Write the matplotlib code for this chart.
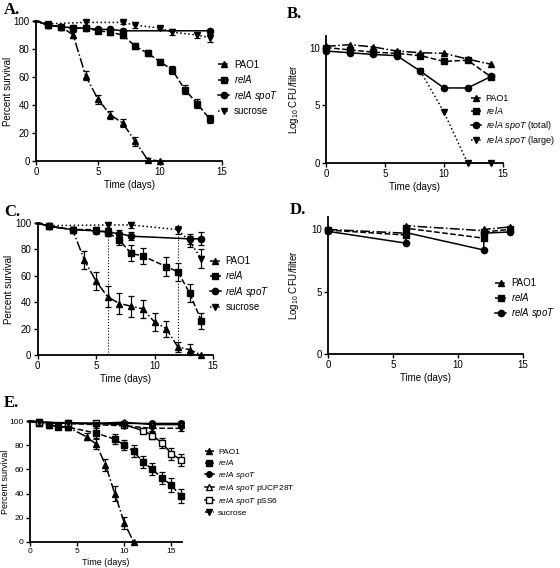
import matplotlib
matplotlib.use("Agg")
import matplotlib.pyplot as plt

plt.rcParams['font.family'] = ['Liberation Sans', 'DejaVu Sans']
plt.rcParams['mathtext.fontset'] = 'custom'
plt.rcParams['mathtext.it'] = 'Liberation Sans:italic'
plt.rcParams['mathtext.rm'] = 'Liberation Sans'

# ---- panel A: percent survival ----
a_pao1_days = [0, 1, 2, 3, 4, 5, 6, 7, 8, 9, 10]
a_pao1 = [100, 97, 96, 90, 61, 44, 33, 27, 14, 1, 0]
a_pao1_err = [0, 1, 1, 2, 3, 3, 3, 3, 3, 1, 0]
a_rela_days = [0, 1, 2, 3, 4, 5, 6, 7, 8, 9, 10, 11, 12, 13, 14]
a_rela = [100, 97, 96, 95, 95, 93, 92, 90, 82, 77, 71, 65, 51, 41, 30]
a_rela_err = [0, 1, 1, 1, 1, 1, 2, 2, 2, 2, 2, 3, 3, 3, 3]
a_spot_days = [0, 1, 2, 3, 4, 5, 6, 7, 14]
a_spot = [100, 97, 96, 95, 95, 94, 94, 93, 93]
a_spot_err = [0, 1, 1, 1, 1, 1, 1, 1, 1]
a_suc_days = [0, 1, 4, 7, 8, 10, 11, 13, 14]
a_suc = [100, 98, 99, 99, 97, 95, 92, 90, 88]
a_suc_err = [0, 1, 2, 1, 2, 1, 2, 2, 3]

# ---- panel B: log10 CFU/filter ----
b_days = [0, 2, 4, 6, 8, 10, 12, 14]
b_pao1 = [10.1, 10.25, 10.05, 9.7, 9.55, 9.5, 9.0, 8.55]
b_rela = [10.0, 9.8, 9.6, 9.5, 9.3, 8.8, 8.9, 7.45]
b_total = [9.7, 9.55, 9.4, 9.3, 7.95, 6.5, 6.5, 7.5]
b_large_days = [8, 10, 12, 14]
b_large = [7.95, 4.4, 0, 0]

# ---- panel C: percent survival with transfers ----
c_transfer_days = [6, 12]
c_pao1_days = [0, 1, 3, 4, 5, 6, 7, 8, 9, 10, 11, 12, 13, 14]
c_pao1 = [100, 97.5, 95, 72, 56, 44, 39, 37, 35, 25, 20, 6, 4, 0]
c_pao1_err = [0, 1, 2, 7, 7, 8, 8, 8, 7, 7, 6, 4, 4, 0]
c_rela_days = [0, 1, 3, 5, 6, 7, 8, 9, 11, 12, 13, 14]
c_rela = [100, 97.5, 95, 95, 93, 87, 77, 75, 67, 63, 47, 26]
c_rela_err = [0, 1, 2, 2, 3, 4, 6, 6, 7, 7, 7, 6]
c_spot_days = [0, 1, 3, 5, 6, 7, 8, 13, 14]
c_spot = [100, 97.5, 95, 94, 93, 92, 90, 88, 88]
c_spot_err = [0, 1, 2, 2, 3, 3, 3, 4, 5]
c_suc_days = [0, 1, 6, 8, 12, 13, 14]
c_suc = [100, 98, 98.5, 98.5, 95, 86, 73]
c_suc_err = [0, 1, 2, 2, 3, 4, 7]

# ---- panel D: log10 CFU/filter with transfers ----
d_days = [0, 6, 6, 12, 12, 14]
d_pao1 = [10.0, 9.7, 10.3, 9.9, 10.0, 10.2]
d_rela = [9.95, 9.55, 10.1, 9.3, 9.8, 10.0]
d_spot = [9.85, 8.9, 9.75, 8.35, 9.7, 9.8]

# ---- panel E: complementation ----
e_pao1_days = [0, 1, 2, 3, 4, 6, 7, 8, 9, 10, 11]
e_pao1 = [100, 98.5, 97, 95.5, 95, 87, 81, 64, 40, 16, 0]
e_pao1_err = [0, 1, 1, 2, 1, 3, 4, 5, 6, 5, 0]
e_rela_days = [0, 1, 2, 3, 4, 7, 9, 10, 11, 12, 13, 14, 15, 16]
e_rela = [100, 98, 97, 95, 95, 90, 85, 80, 75, 66, 60, 53, 47, 38]
e_rela_err = [0, 1, 1, 1, 1, 4, 4, 4, 5, 5, 5, 5, 6, 6]
e_spot_days = [0, 1, 4, 7, 10, 13, 16]
e_spot = [100, 99, 98.5, 98, 98, 98, 98]
e_spot_err = [0, 1, 1, 1, 1, 1, 2]
e_pucp_days = [0, 1, 4, 7, 10, 13, 16]
e_pucp = [100, 99, 98, 98, 99, 97, 97]
e_pucp_err = [0, 1, 1, 1, 1, 2, 2]
e_pss6_days = [0, 1, 4, 7, 10, 12, 13, 14, 15, 16]
e_pss6 = [100, 99, 98, 98, 97, 92, 88, 82, 73, 68]
e_pss6_err = [0, 0, 1, 1, 1, 2, 3, 4, 5, 5]
e_suc_days = [0, 1, 4, 7, 10, 13, 16]
e_suc = [100, 99, 98, 97, 96, 94, 94]
e_suc_err = [0, 1, 1, 1, 1, 2, 2]

W, H = 560, 568
fig = plt.figure(figsize=(W / 100, H / 100), dpi=100)


def px_axes(x0, x1, ytop, ybot):
    """Axes from pixel edges (origin top-left)."""
    ax = fig.add_axes([x0 / W, 1 - ybot / H, (x1 - x0) / W, (ybot - ytop) / H])
    for side in ('top', 'right'):
        ax.spines[side].set_visible(False)
    for side in ('left', 'bottom'):
        ax.spines[side].set_linewidth(1.3)
    ax.tick_params(direction='out', length=3, width=1, labelsize=7, pad=1.5)
    return ax


def labels(ax, x0, x1, ylab_px, ylabel, size=7):
    """x label under the axis, y label's right edge at pixel column ylab_px."""
    ax.set_xlabel('Time (days)', fontsize=size, labelpad=2)
    ax.set_ylabel(ylabel, fontsize=size)
    ax.yaxis.set_label_coords((ylab_px - x0) / (x1 - x0), 0.5)


def series(ax, days, vals, err, ls, marker, label, mfc='black', ms=4.5,
           skip_first=True):
    line, = ax.plot(days, vals, color='black', ls=ls, lw=1.1, marker=marker,
                    ms=ms, mfc=mfc, mec='black',
                    markevery=slice(1 if skip_first else 0, None),
                    clip_on=False, label=label, zorder=3)
    if err is not None:
        ax.errorbar(days, vals, yerr=err, fmt='none', ecolor='black',
                    elinewidth=0.9, capsize=2.2, capthick=0.9, clip_on=False,
                    zorder=2)
    return line


def legend(ax, x, y, size=7, spacing=0.35):
    ax.legend(loc='upper left', bbox_to_anchor=(x, y), frameon=False,
              fontsize=size, handlelength=1.1, handletextpad=0.5,
              labelspacing=spacing, borderaxespad=0)


def letter(x, y, s):
    fig.text(x / W, 1 - y / H, s, fontfamily='Liberation Serif',
             fontweight='bold', fontsize=12, va='center')


RELA = '$relA$'
SPOT = '$relA\\ spoT$'
LOGCFU = 'Log$_{10}$ CFU/filter'

# A
ax = px_axes(36, 222, 21, 161)
series(ax, a_pao1_days, a_pao1, a_pao1_err, '-.', '^', 'PAO1')
series(ax, a_rela_days, a_rela, a_rela_err, '--', 's', RELA)
series(ax, a_spot_days, a_spot, a_spot_err, '-', 'o', SPOT)
series(ax, a_suc_days, a_suc, a_suc_err, ':', 'v', 'sucrose')
ax.set_xlim(0, 15)
ax.set_ylim(0, 100)
ax.set_xticks([0, 5, 10, 15])
ax.set_yticks([0, 20, 40, 60, 80, 100])
labels(ax, 36, 222, 13, 'Percent survival')
legend(ax, 0.96, 0.75)
letter(4, 10, 'A.')

# B
ax = px_axes(326, 503, 36, 163)
series(ax, b_days, b_pao1, None, '-.', '^', 'PAO1', skip_first=False)
series(ax, b_days, b_rela, None, '--', 's', RELA, skip_first=False)
series(ax, b_days, b_total, None, '-', 'o', SPOT + ' (total)',
       skip_first=False)
series(ax, b_large_days, b_large, None, ':', 'v', SPOT + ' (large)',
       skip_first=False)
ax.set_xlim(0, 15)
ax.set_ylim(0, 11)
ax.set_xticks([0, 5, 10, 15])
ax.set_yticks([0, 5, 10])
labels(ax, 326, 503, 301, LOGCFU)
legend(ax, 0.8, 0.57, size=6.5, spacing=0.25)
letter(287, 14, 'B.')

# C
ax = px_axes(37.5, 213, 223, 355)
ax.vlines(c_transfer_days, 0, 100, colors='black', linestyles=':', lw=0.8)
series(ax, c_pao1_days, c_pao1, c_pao1_err, '-.', '^', 'PAO1')
series(ax, c_rela_days, c_rela, c_rela_err, '--', 's', RELA)
series(ax, c_spot_days, c_spot, c_spot_err, '-', 'o', SPOT)
series(ax, c_suc_days, c_suc, c_suc_err, ':', 'v', 'sucrose')
ax.set_xlim(0, 15)
ax.set_ylim(0, 100)
ax.set_xticks([0, 5, 10, 15])
ax.set_yticks([0, 20, 40, 60, 80, 100])
labels(ax, 37.5, 213, 14, 'Percent survival')
legend(ax, 0.96, 0.78)
letter(4, 212, 'C.')

# D
ax = px_axes(328, 522.7, 217, 354)
series(ax, d_days, d_pao1, None, '-.', '^', 'PAO1', skip_first=False)
series(ax, d_days, d_rela, None, '--', 's', RELA, skip_first=False)
series(ax, d_days, d_spot, None, '-', 'o', SPOT, skip_first=False)
ax.set_xlim(0, 15)
ax.set_ylim(0, 11)
ax.set_xticks([0, 5, 10, 15])
ax.set_yticks([0, 5, 10])
labels(ax, 328, 522.7, 301, LOGCFU)
legend(ax, 0.84, 0.58, spacing=0.3)
letter(290, 210, 'D.')

# E
ax = px_axes(30, 181.7, 421, 542)
series(ax, e_pao1_days, e_pao1, e_pao1_err, '-.', '^', 'PAO1', ms=4)
series(ax, e_rela_days, e_rela, e_rela_err, '--', 's', RELA, ms=4)
series(ax, e_spot_days, e_spot, e_spot_err, '-', 'o', SPOT, ms=4)
series(ax, e_pucp_days, e_pucp, e_pucp_err, '-', '^', SPOT + ' pUCP28T',
       mfc='white', ms=4.5)
series(ax, e_pss6_days, e_pss6, e_pss6_err, '-', 's', SPOT + ' pSS6',
       mfc='white', ms=5)
series(ax, e_suc_days, e_suc, e_suc_err, '--', 'v', 'sucrose', ms=4)
ax.set_xlim(0, 16.1)
ax.set_ylim(0, 100)
ax.set_xticks([0, 5, 10, 15])
ax.set_yticks([0, 20, 40, 60, 80, 100])
ax.tick_params(labelsize=6)
labels(ax, 30, 181.7, 10, 'Percent survival', size=6.5)
legend(ax, 1.13, 0.8, size=6, spacing=0.25)
letter(4, 403, 'E.')

fig.savefig('out.png', dpi=100)
